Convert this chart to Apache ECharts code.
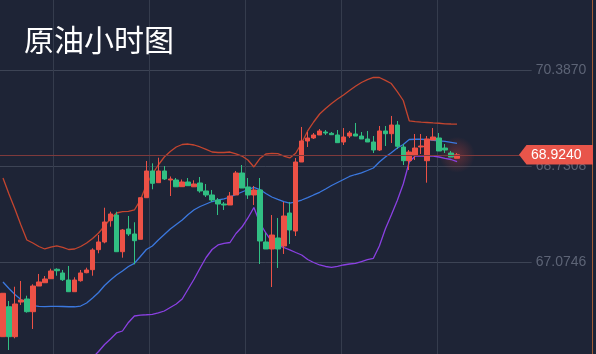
<!DOCTYPE html>
<html><head><meta charset="utf-8">
<script src="https://cdn.jsdelivr.net/npm/echarts@6/dist/echarts.min.js"></script>
<style>html,body{margin:0;padding:0;background:#1e2436;}#c{width:596px;height:354px;}</style>
</head><body><div id="c"></div>
<script>
const titleText = '原油小时图';
const yTicks = [67.0746, 68.7308, 70.3870];
const lastPrice = 68.924;

const open = [65.786,66.303,65.786,66.384,66.436,66.217,66.660,66.717,66.786,66.949,
66.885,66.764,66.562,66.752,66.890,66.942,67.287,67.420,67.787,67.885,
67.252,67.644,67.558,67.466,68.184,68.645,68.443,68.645,68.489,68.489,
68.374,68.455,68.372,68.438,68.300,68.231,68.144,68.075,68.058,68.231,
68.610,68.369,68.231,68.317,67.420,67.299,67.489,67.351,67.920,67.609,
68.800,69.162,69.214,69.266,69.317,69.295,69.266,69.145,69.248,69.283,
69.248,69.197,69.145,69.007,69.335,69.288,69.438,69.059,68.822,68.921,
69.059,68.822,69.179,69.214,69.041,68.955,68.864];
const close = [66.535,65.786,66.350,66.419,66.217,66.660,66.730,66.781,66.919,66.924,
66.769,66.562,66.764,66.885,66.937,67.282,67.420,67.765,67.903,67.252,
67.627,67.558,67.442,68.184,68.645,68.432,68.645,68.507,68.507,68.372,
68.455,68.391,68.420,68.300,68.231,68.144,68.075,68.058,68.213,68.610,
68.351,68.231,68.317,67.437,67.299,67.540,67.299,67.868,67.627,68.800,
69.162,69.214,69.266,69.335,69.300,69.271,69.133,69.231,69.300,69.248,
69.197,69.145,69.007,69.335,69.288,69.438,69.071,68.822,68.972,69.041,
69.076,69.197,69.231,68.990,69.007,68.886,68.924];
const low = [65.786,65.556,65.758,66.333,66.200,65.919,66.660,66.717,66.786,66.838,
66.747,66.562,66.562,66.735,66.880,66.838,67.225,67.397,67.684,67.252,
67.149,67.523,67.035,67.466,68.184,68.329,68.443,68.489,68.213,68.369,
68.374,68.391,68.369,68.270,68.196,68.110,67.885,67.972,68.058,68.231,
68.351,68.162,68.058,67.040,67.299,66.643,66.971,67.213,67.385,67.523,
68.800,69.059,69.197,69.266,69.266,69.271,69.133,69.093,69.214,69.248,
69.197,69.145,68.955,68.990,69.076,69.128,69.024,68.748,68.662,68.834,
68.938,68.443,69.179,68.990,68.955,68.886,68.864];
const high = [66.535,66.402,66.648,66.747,66.493,66.690,66.868,66.833,66.959,66.966,
66.937,67.006,66.811,66.937,66.976,67.311,67.540,68.011,67.942,67.942,
67.644,67.868,67.760,68.184,68.817,68.777,68.874,68.731,68.550,68.524,
68.498,68.524,68.484,68.541,68.420,68.317,68.179,68.110,68.282,68.645,
68.748,68.524,68.386,68.524,67.575,67.885,67.834,68.110,68.110,68.869,
69.404,69.317,69.300,69.369,69.352,69.317,69.352,69.386,69.335,69.473,
69.317,69.335,69.248,69.421,69.421,69.594,69.507,69.110,69.007,69.283,
69.283,69.248,69.386,69.300,69.110,68.990,68.955];
const upper = [68.524,68.248,67.989,67.713,67.454,67.402,67.342,67.299,67.333,67.351,
67.325,67.290,67.299,67.342,67.402,67.480,67.575,67.696,67.825,67.920,
67.942,67.949,67.972,68.144,68.403,68.593,68.748,68.886,68.981,69.059,
69.102,69.110,69.093,69.059,69.016,68.972,68.964,68.964,68.972,68.938,
68.903,68.834,68.714,68.860,68.938,68.950,68.946,68.903,68.869,68.950,
69.128,69.335,69.490,69.628,69.723,69.809,69.887,69.956,70.033,70.106,
70.171,70.220,70.258,70.258,70.209,70.154,70.013,69.861,69.511,69.495,
69.487,69.481,69.474,69.468,69.459,69.455,69.452];
const middle = [66.730,66.617,66.514,66.428,66.362,66.321,66.309,66.303,66.310,66.310,
66.307,66.302,66.302,66.315,66.367,66.453,66.548,66.669,66.764,66.850,
66.919,66.997,67.052,67.169,67.290,67.351,67.454,67.549,67.644,67.722,
67.799,67.894,67.975,68.032,68.075,68.118,68.144,68.162,68.196,68.239,
68.282,68.325,68.363,68.325,68.256,68.196,68.156,68.118,68.092,68.110,
68.144,68.184,68.231,68.277,68.334,68.394,68.446,68.498,68.550,68.584,
68.614,68.653,68.696,68.800,68.886,68.959,69.041,69.102,69.188,69.192,
69.192,69.186,69.174,69.164,69.154,69.140,69.122];
const lower = [64.935,64.987,65.039,65.142,65.270,65.239,65.275,65.308,65.287,65.270,
65.289,65.313,65.304,65.289,65.332,65.427,65.530,65.651,65.746,65.850,
65.884,66.031,66.143,66.157,66.164,66.172,66.195,66.229,66.290,66.350,
66.436,66.609,66.781,66.971,67.152,67.290,67.368,67.394,67.411,67.566,
67.678,67.834,68.015,67.747,67.575,67.428,67.359,67.325,67.282,67.238,
67.195,67.118,67.066,67.023,66.997,66.983,67.000,67.023,67.040,67.052,
67.083,67.114,67.138,67.351,67.644,67.885,68.136,68.420,68.800,68.903,
68.903,68.903,68.900,68.886,68.864,68.843,68.805];

const padCount = 12;
const categories = open.map((_, i) => 'K' + (i + 1)).concat(Array.from({length: padCount}, (_, i) => 'P' + (i + 1)));

const RED = '#ec5146', GREEN = '#31bf83';
const kData = open.map((o, i) => [o, close[i], low[i], high[i]]);

const chart = echarts.init(document.getElementById('c'), null, {renderer: 'canvas'});
chart.setOption({
  animation: false,
  backgroundColor: '#1e2436',
  title: {
    text: titleText, left: 19, top: 20,
    textStyle: {color: '#ffffff', fontSize: 30, fontWeight: 'normal', fontFamily: '"Noto Sans CJK SC", sans-serif'}
  },
  grid: [
    {left: -2.3, right: 64.3, top: 0, bottom: 0},
    {left: 53, width: 384, top: 0, bottom: 0}
  ],
  xAxis: [
    {type: 'category', gridIndex: 0, data: categories, boundaryGap: true,
     axisLine: {show: false}, axisTick: {show: false}, axisLabel: {show: false}, splitLine: {show: false}},
    {type: 'value', gridIndex: 1, min: 0, max: 4, interval: 1,
     axisLine: {show: false}, axisTick: {show: false}, axisLabel: {show: false},
     splitLine: {show: true, lineStyle: {color: '#353c4d', width: 1}}}
  ],
  yAxis: [
    {type: 'value', gridIndex: 0, position: 'right', min: 65.4872, max: 71.5948,
     axisLine: {show: false},
     axisTick: {show: false, customValues: yTicks},
     axisLabel: {customValues: yTicks, margin: 4, color: '#5d6476', fontSize: 14,
       fontFamily: '"Liberation Sans", Arial, sans-serif', formatter: v => v.toFixed(4)},
     splitLine: {show: true, lineStyle: {color: '#3d4455', width: 1}}},
    {type: 'value', gridIndex: 1, show: false, min: 0, max: 1}
  ],
  series: [
    {type: 'scatter', xAxisIndex: 0, yAxisIndex: 0, z: 1, silent: true,
     data: [[open.length - 1, lastPrice]], symbolSize: 36,
     itemStyle: {color: {type: 'radial', x: 0.5, y: 0.5, r: 0.5,
       colorStops: [{offset: 0, color: 'rgba(236,70,60,0.4)'}, {offset: 1, color: 'rgba(236,70,60,0)'}]}}},
    {type: 'line', name: 'upper', data: upper, symbol: 'none', smooth: false,
     lineStyle: {color: '#c4452f', width: 1.3}, z: 3},
    {type: 'line', name: 'middle', data: middle, symbol: 'none', smooth: false,
     lineStyle: {color: '#3b78df', width: 1.3}, z: 3},
    {type: 'line', name: 'lower', data: lower, symbol: 'none', smooth: false,
     lineStyle: {color: '#8a40e2', width: 1.3}, z: 3},
    {type: 'candlestick', name: 'K', data: kData, barWidth: 5, z: 4,
     itemStyle: {color: RED, color0: GREEN, borderColor: RED, borderColor0: GREEN, borderWidth: 1},
     markLine: {silent: true, symbol: ['none', 'none'], label: {show: false},
       lineStyle: {color: '#7e3a3c', width: 1, type: 'solid'},
       data: [{yAxis: lastPrice}]}}
  ]
});

const yPix = chart.convertToPixel({yAxisIndex: 0}, lastPrice);
chart.setOption({
  graphic: [
    {type: 'line', z: 90, shape: {x1: 592.5, y1: 0, x2: 592.5, y2: 354}, style: {stroke: '#a45c36', lineWidth: 1}},
    {type: 'polygon', z: 100,
     shape: {points: [[519, yPix], [526.5, yPix - 9.8], [593, yPix - 9.8], [593, yPix + 9.8], [526.5, yPix + 9.8]]},
     style: {fill: '#e8554a'}},
    {type: 'text', z: 101, x: 531, y: yPix,
     style: {text: lastPrice.toFixed(4), fill: '#ffffff', font: '14px "Liberation Sans", Arial, sans-serif', verticalAlign: 'middle'}}
  ]
});
</script>
</body></html>
